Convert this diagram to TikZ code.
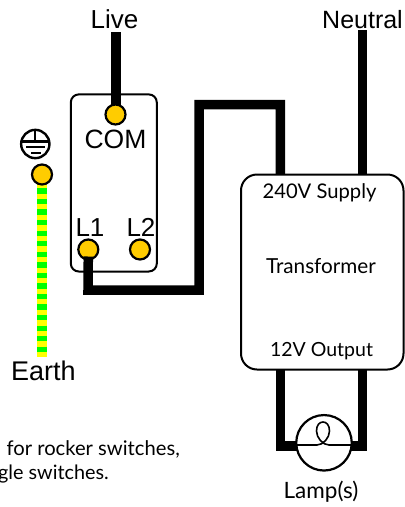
\documentclass[tikz,border=0pt]{standalone}
\usepackage{fontspec}
\setmainfont{Liberation Sans}
\newfontfamily\myr{Lato}
\definecolor{termfill}{RGB}{255,204,0}
\definecolor{egreen}{RGB}{0,255,0}
\definecolor{eyellow}{RGB}{255,255,0}
\tikzset{
  wire/.style={line width=9.5pt,line cap=butt,line join=miter,draw=black},
  terminal/.style={circle,draw=black,line width=2.2pt,fill=termfill,minimum size=20pt,inner sep=0pt},
  boxshape/.style={draw=black,line width=2pt,fill=white},
  armlabel/.style={font=\fontsize{26}{26}\selectfont,inner sep=0pt,anchor=base},
  myrlabel/.style={font=\myr\fontsize{20.2}{22}\selectfont,inner sep=0pt,anchor=base},
}
\begin{document}
\begin{tikzpicture}[x=1pt,y=-1pt]
\useasboundingbox (0,0) rectangle (405,507);
\coordinate (neutraltop) at (362.3,30);
\coordinate (livetop) at (116,32);
\coordinate (lampL) at (280.3,445.8);
\coordinate (lampR) at (362.5,445.8);
\fill[eyellow] (36.7,184) rectangle (47.3,356.7);
\draw[egreen,line width=10.6pt,dash pattern=on 5.3pt off 5.26pt] (42,188.3) -- (42,356);
\draw[boxshape,rounded corners=8pt] (70.8,94.4) rectangle (156.8,271.5);
\draw[wire] (livetop) -- (116,114);
\node[terminal] (com) at (115.5,114.5) {};
\node[terminal] (earth) at (42,174.5) {};
\node[terminal] (lone) at (88.3,249.5) {};
\node[terminal] (ltwo) at (140,249.5) {};
\draw[wire] (lone.center) ++(0,7) -- (88,290) -- (199,290) -- (199,104.5) -- (280.3,104.5) -- (280.3,180);
\draw[wire] (neutraltop) -- (362.3,180);
\draw[wire] (280.3,365) -- (lampL) -- (300,445.8);
\draw[wire] (362.5,365) -- (lampR) -- (345,445.8);
\draw[boxshape,rounded corners=16pt] (241,174.5) rectangle (403.5,369.5);
\node[circle,draw=black,line width=2.2pt,fill=white,minimum size=55.5pt,inner sep=0pt] (lamp) at (324,442.8) {};
\draw[line width=1.6pt] (lamp.west |- 0,445) -- (317,445) .. controls (323,445) and (329.5,438) .. (329.5,431) .. controls (329.5,425) and (326.5,422) .. (323,422) .. controls (319.5,422) and (316.5,425) .. (316.5,431) .. controls (316.5,438) and (323,445) .. (329,445) -- (lamp.east |- 0,445);
\node[circle,draw=black,line width=2.4pt,minimum size=28.3pt,inner sep=0pt] (esym) at (35.3,144) {};
\draw[line width=2.2pt] (esym.north) -- (35.3,141.5);
\draw[line width=2.2pt] (21.5,141.5) -- (49,141.5);
\draw[line width=2.2pt] (26,147.2) -- (44.5,147.2);
\draw[line width=2.2pt] (31,153) -- (40.5,153);
\node[armlabel] (live) at (114.5,28) {Live};
\node[armlabel,font=\fontsize{25}{26}\selectfont] (neutral) at (362.5,28) {Neutral};
\node[armlabel,font=\fontsize{26.5}{26}\selectfont] (comt) at (115.5,148) {COM};
\node[armlabel] (lonet) at (90,236) {L1};
\node[armlabel] (ltwot) at (141,236) {L2};
\node[armlabel,font=\fontsize{27}{26}\selectfont] (eartht) at (43.3,380) {Earth};
\node[myrlabel] (supply) at (319.5,198) {240V Supply};
\node[myrlabel,font=\myr\fontsize{20.7}{22}\selectfont] (transf) at (321,273) {Transformer};
\node[myrlabel,font=\myr\fontsize{19.5}{22}\selectfont] (output) at (321.5,356.5) {12V Output};
\node[myrlabel,font=\myr\fontsize{22.5}{22}\selectfont] (lampt) at (321,498) {Lamp(s)};
\node[myrlabel,anchor=base east] (noteone) at (180,455) {for rocker switches,};
\node[myrlabel,font=\myr\fontsize{19.8}{22}\selectfont,anchor=base east] (notetwo) at (109,479) {gle switches.};
\end{tikzpicture}
\end{document}
